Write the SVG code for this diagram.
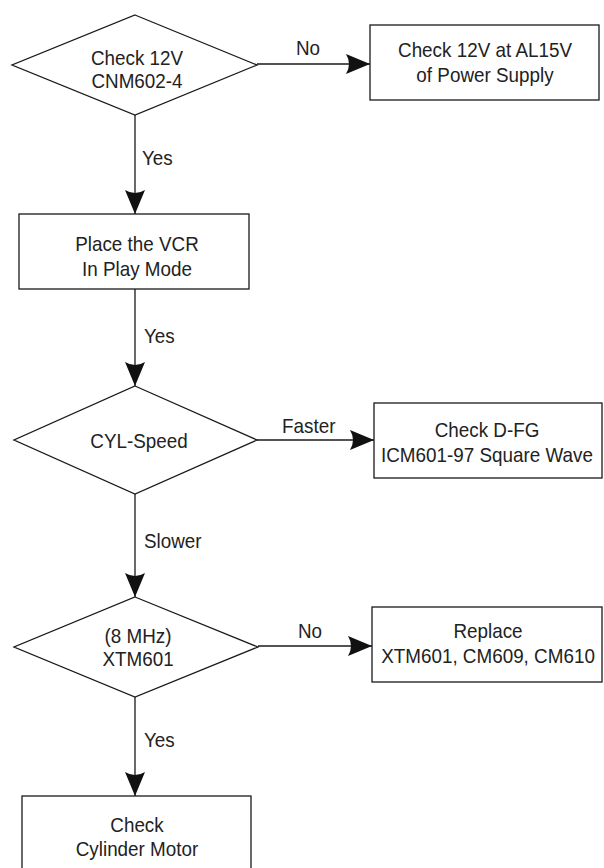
<svg xmlns="http://www.w3.org/2000/svg" width="604" height="868" viewBox="0 0 604 868">
<style>
.s{fill:#fff;stroke:#1a1a1a;stroke-width:1.3}
.c{fill:none;stroke:#1a1a1a;stroke-width:1.3}
text{font-family:"Liberation Sans",Arial,sans-serif;font-size:20.5px;fill:#222}
.m{text-anchor:middle}
</style>
<defs>
<marker id="ah" viewBox="0 0 24 20" markerWidth="24" markerHeight="20" refX="24" refY="10" orient="auto" markerUnits="userSpaceOnUse">
<path d="M0,0 L24,10 L0,20 Q6,10 0,0 Z" fill="#111"/>
</marker>
</defs>
<rect width="604" height="868" fill="#fff"/>
<g id="connectors">
<line class="c" x1="257" y1="64" x2="370" y2="64" marker-end="url(#ah)"/>
<line class="c" x1="135" y1="115" x2="135" y2="214" marker-end="url(#ah)"/>
<line class="c" x1="135" y1="289" x2="135" y2="386" marker-end="url(#ah)"/>
<line class="c" x1="257" y1="440" x2="374" y2="440" marker-end="url(#ah)"/>
<line class="c" x1="135" y1="494" x2="135" y2="597" marker-end="url(#ah)"/>
<line class="c" x1="258" y1="646" x2="372" y2="646" marker-end="url(#ah)"/>
<line class="c" x1="135" y1="697" x2="135" y2="796" marker-end="url(#ah)"/>
<text transform="translate(296,55) scale(0.92,1)">No</text>
<text transform="translate(142,165) scale(0.92,1)">Yes</text>
<text transform="translate(144,343) scale(0.92,1)">Yes</text>
<text transform="translate(282,433) scale(0.92,1)">Faster</text>
<text transform="translate(144,548) scale(0.92,1)">Slower</text>
<text transform="translate(298,638) scale(0.92,1)">No</text>
<text transform="translate(144,747) scale(0.92,1)">Yes</text>
</g>
<g id="d1">
<polygon class="s" points="135,15 257,65 135,115 12,65"/>
<text class="m" transform="translate(137,65) scale(0.92,1)">Check 12V</text>
<text class="m" transform="translate(137,88) scale(0.92,1)">CNM602-4</text>
</g>
<g id="b1">
<rect class="s" x="370" y="25" width="229" height="75"/>
<text class="m" transform="translate(485,57) scale(0.92,1)">Check 12V at AL15V</text>
<text class="m" transform="translate(485,82) scale(0.92,1)">of Power Supply</text>
</g>
<g id="b2">
<rect class="s" x="19" y="214" width="230" height="75"/>
<text class="m" transform="translate(137,251) scale(0.92,1)">Place the VCR</text>
<text class="m" transform="translate(137,276) scale(0.92,1)">In Play Mode</text>
</g>
<g id="d2">
<polygon class="s" points="135,386 257,440 135,494 14,440"/>
<text class="m" transform="translate(139,448) scale(0.92,1)">CYL-Speed</text>
</g>
<g id="b3">
<rect class="s" x="374" y="403" width="228" height="75"/>
<text class="m" transform="translate(487,437) scale(0.92,1)">Check D-FG</text>
<text class="m" transform="translate(487,462) scale(0.92,1)">ICM601-97 Square Wave</text>
</g>
<g id="d3">
<polygon class="s" points="135,597 258,647 135,697 14,647"/>
<text class="m" transform="translate(138,643) scale(0.92,1)">(8 MHz)</text>
<text class="m" transform="translate(138,666) scale(0.92,1)">XTM601</text>
</g>
<g id="b4">
<rect class="s" x="372" y="607" width="230" height="75"/>
<text class="m" transform="translate(488,638) scale(0.92,1)">Replace</text>
<text class="m" transform="translate(488,663) scale(0.92,1)">XTM601, CM609, CM610</text>
</g>
<g id="b5">
<rect class="s" x="22" y="796" width="229" height="80"/>
<text class="m" transform="translate(137,832) scale(0.92,1)">Check</text>
<text class="m" transform="translate(137,856) scale(0.92,1)">Cylinder Motor</text>
</g>
</svg>
